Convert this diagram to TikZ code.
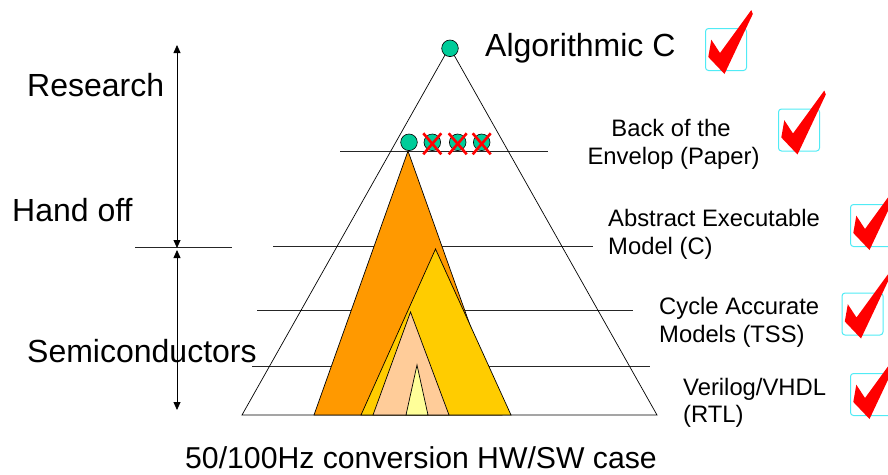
\documentclass[tikz,border=0pt]{standalone}
\usepackage{fontspec}
\setmainfont{Liberation Sans}
\usetikzlibrary{arrows.meta}

\definecolor{orangeA}{HTML}{FF9900}
\definecolor{goldA}{HTML}{FFCC00}
\definecolor{peachA}{HTML}{FFCC99}
\definecolor{paleA}{HTML}{FFFF99}
\definecolor{dotgreen}{HTML}{00CC99}
\definecolor{boxcyan}{RGB}{80,235,245}

\tikzset{
  big/.style={font=\fontsize{32}{36}\selectfont, inner sep=0pt},
  small/.style={font=\fontsize{23.8}{28}\selectfont, inner sep=0pt},
  level/.style={draw=black!85, line width=0.9pt},
  edge/.style={draw=black, line width=0.7pt},
  layer/.style={draw=black, line width=0.7pt},
  dot/.style={circle, draw=black, line width=0.6pt, fill=dotgreen, minimum size=16.6pt, inner sep=0pt},
  cbox/.style={draw=boxcyan, line width=1pt, rounded corners=3pt, minimum width=41pt, minimum height=42pt, inner sep=0pt},
  cross/.style={draw=red, line width=2.6pt},
  span/.style={draw=black, line width=0.8pt, {Triangle[length=8pt,width=7pt]}-{Triangle[length=8pt,width=7pt]}},
  redtick/.pic={\fill[red] (6.3,11.7) -- (15,25) -- (46.3,-18) -- (47.8,-14) -- (19.5,46) -- (3.3,29) -- cycle;}
}

\begin{document}
\begin{tikzpicture}[x=1pt, y=-1pt]
\useasboundingbox (0,0) rectangle (888,474);
\clip (0,0) rectangle (888,474);

% abstraction levels
\coordinate (l1a) at (340,151);   \coordinate (l1b) at (548,151);
\coordinate (l2a) at (273,246.5); \coordinate (l2b) at (593,246.5);
\coordinate (l3a) at (257,310.5); \coordinate (l3b) at (633,310.5);
\coordinate (l4a) at (252,366.5); \coordinate (l4b) at (650,366.5);
\draw[level] (l1a) -- (l1b);
\draw[level] (l2a) -- (l2b);
\draw[level] (l3a) -- (l3b);
\draw[level] (l4a) -- (l4b);

% outer pyramid
\coordinate (apex) at (449.5,47);
\coordinate (bl) at (242,415);
\coordinate (br) at (657,415);
\draw[edge] (bl) -- (apex) -- (br) -- cycle;

% nested design-space triangles
\coordinate (oa) at (408,151);   \coordinate (ol) at (314,415); \coordinate (or) at (502,415);
\coordinate (ga) at (435.5,249); \coordinate (gl) at (361,415); \coordinate (gr) at (511,415);
\coordinate (pa) at (410.5,312); \coordinate (pl) at (373,415); \coordinate (pr) at (449,415);
\coordinate (ya) at (417,365);   \coordinate (yl) at (406,415); \coordinate (yr) at (428,415);
\filldraw[layer, fill=orangeA] (ol) -- (oa) -- (or) -- cycle;
\filldraw[layer, fill=goldA] (gl) -- (ga) -- (gr) -- cycle;
\filldraw[layer, fill=peachA] (pl) -- (pa) -- (pr) -- cycle;
\filldraw[layer, fill=paleA] (yl) -- (ya) -- (yr) -- cycle;

% design points
\node[dot] (top) at (450,48.3) {};
\node[dot] (d1) at (409,142.3) {};
\node[dot] (d2) at (432.3,142.3) {};
\node[dot] (d3) at (457.7,142.3) {};
\node[dot] (d4) at (481.7,142.3) {};
\foreach \d in {d2,d3,d4}{
  \draw[cross] ([shift={(-9,-9)}]\d.center) -- ([shift={(9,12)}]\d.center);
  \draw[cross] ([shift={(9,-9)}]\d.center) -- ([shift={(-9,12)}]\d.center);
}

% phases on the left
\coordinate (rtop) at (177,45);
\coordinate (rbot) at (177,248);
\coordinate (stop) at (177,250);
\coordinate (sbot) at (177,410);
\coordinate (ha) at (135,247);
\coordinate (hb) at (232,247);
\draw[level] (ha) -- (hb);
\draw[span] (rtop) -- (rbot);
\draw[span] (stop) -- (sbot);

\node[big, anchor=base west] (research) at (27,96) {Research};
\node[big, anchor=base west] (handoff) at (12,221) {Hand off};
\node[big, anchor=base west] (semi) at (27,362) {Semiconductors};

% level labels
\node[big, anchor=base west] (algc) at (485,56) {Algorithmic C};
\node[small, anchor=base] (env1) at (671,136.5) {Back of the};
\node[small, anchor=base] (env2) at (673.5,164) {Envelop (Paper)};
\node[small, anchor=base west] (abs1) at (608,226.5) {Abstract Executable};
\node[small, anchor=base west] (abs2) at (608,254.5) {Model (C)};
\node[small, anchor=base west] (cyc1) at (659,314) {Cycle Accurate};
\node[small, anchor=base west] (cyc2) at (659,342) {Models (TSS)};
\node[small, anchor=base west] (rtl1) at (683,395) {Verilog/VHDL};
\node[small, anchor=base west] (rtl2) at (683,422) {(RTL)};

% ticked boxes
\node[cbox, anchor=north west] (b1) at (705,28) {};
\node[cbox, anchor=north west] (b2) at (778,108.5) {};
\node[cbox, anchor=north west] (b3) at (850,204) {};
\node[cbox, anchor=north west] (b4) at (841.5,292.5) {};
\node[cbox, anchor=north west] (b5) at (850,373) {};
\pic at (b1.north west) {redtick};
\pic at (b2.north west) {redtick};
\pic at (b3.north west) {redtick};
\pic at (b4.north west) {redtick};
\pic at (b5.north west) {redtick};

% caption
\node[font=\fontsize{30.2}{34}\selectfont, inner sep=0pt, anchor=base west] (caption) at (185,468.5) {50/100Hz conversion HW/SW case};
\end{tikzpicture}
\end{document}
